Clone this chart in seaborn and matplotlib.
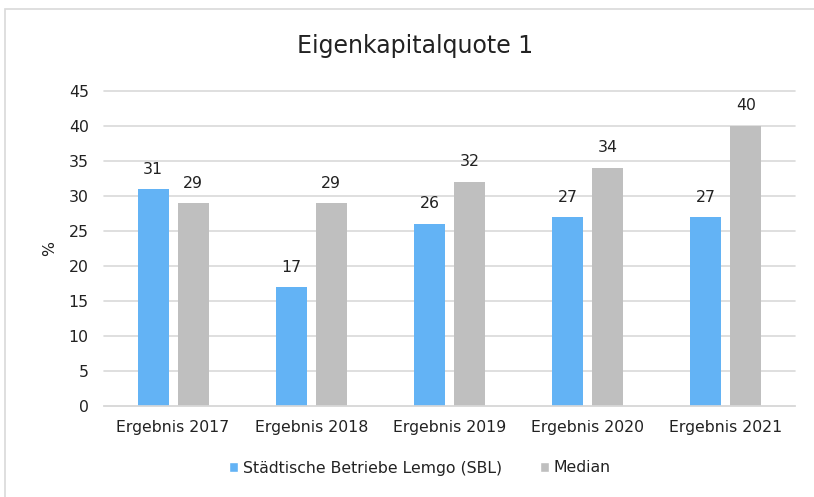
import matplotlib
matplotlib.use("Agg")
import matplotlib.pyplot as plt
import seaborn as sns
import pandas as pd
from matplotlib.patches import Rectangle, Patch

categories = ["Ergebnis 2017", "Ergebnis 2018", "Ergebnis 2019", "Ergebnis 2020", "Ergebnis 2021"]
sbl_values = [31, 17, 26, 27, 27]
median_values = [29, 29, 32, 34, 40]
series_names = ["Städtische Betriebe Lemgo (SBL)", "Median"]
colors = ["#63B3F5", "#BFBFBF"]

df = pd.DataFrame({
    "Kategorie": categories * 2,
    "Wert": sbl_values + median_values,
    "Reihe": [series_names[0]] * len(categories) + [series_names[1]] * len(categories),
})

sns.set_theme(style="white")
plt.rcParams["font.family"] = ["DejaVu Sans"]

fig = plt.figure(figsize=(8.14, 4.97), dpi=100)
fig.patch.set_facecolor("white")
fig.patches.append(Rectangle((5 / 814, -0.05), 1.1, 1 - 9 / 497 + 0.05,
                             transform=fig.transFigure, fill=False,
                             edgecolor="#D9D9D9", linewidth=1.2))

ax = fig.add_axes([104 / 814, 1 - 406 / 497, (795 - 104) / 814, (406 - 91) / 497])
sns.barplot(data=df, x="Kategorie", y="Wert", hue="Reihe", palette=colors,
            width=0.58, gap=0.225, ax=ax, legend=False, saturation=1, linewidth=0)

for container in ax.containers:
    ax.bar_label(container, fmt="%d", padding=9, fontsize=11.3, color="#222222")

ax.set_ylim(0, 45)
ax.set_yticks(range(0, 50, 5))
ax.yaxis.grid(True, color="#D9D9D9", linewidth=1.2)
for gl in ax.get_ygridlines():
    gl.set_clip_on(False)
ax.set_axisbelow(True)
for s in ["top", "right", "left"]:
    ax.spines[s].set_visible(False)
ax.spines["bottom"].set_color("#D9D9D9")
ax.spines["bottom"].set_linewidth(1.2)
ax.tick_params(axis="both", length=0, labelsize=11.3, labelcolor="#222222")
ax.tick_params(axis="x", pad=10)
ax.tick_params(axis="y", pad=11)
ax.set_xlabel("")
ax.set_ylabel("%", fontsize=11.3, color="#222222", labelpad=8)

fig.text(415 / 814, 1 - 46 / 497, "Eigenkapitalquote 1", ha="center", va="center",
         fontsize=17, color="#222222")

handles = [Patch(facecolor=c, label=n) for c, n in zip(colors, series_names)]
fig.legend(handles=handles, loc="center", bbox_to_anchor=(420 / 814, 1 - 468 / 497),
           ncol=2, frameon=False, fontsize=11.3, handlelength=0.6, handleheight=0.6,
           handletextpad=0.3, columnspacing=2.4, labelcolor="#222222")

fig.savefig("out.png", dpi=100)
